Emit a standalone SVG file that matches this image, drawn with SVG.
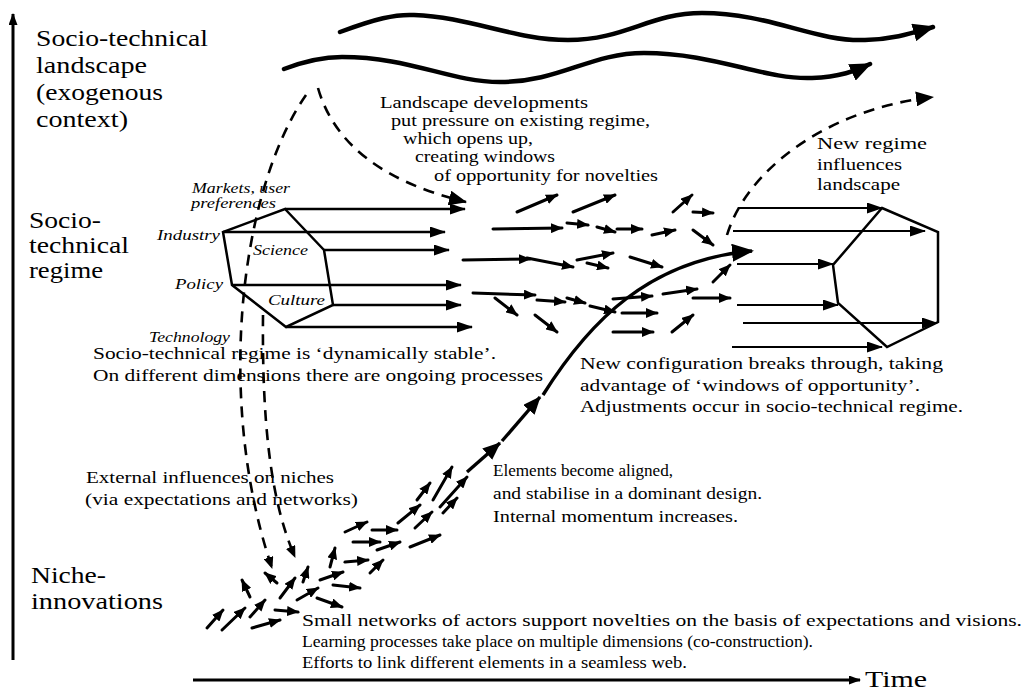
<svg xmlns="http://www.w3.org/2000/svg" width="1027" height="693" viewBox="0 0 1027 693">
<style>
text{font-family:"Liberation Serif","Times New Roman",serif;fill:#000}
.big{font-size:24px}
.t{font-size:16px}
.it{font-size:14px;font-style:italic}
.tm{font-size:24px}
.ln{fill:none;stroke:#000;stroke-width:2.5}
.thin{fill:none;stroke:#000;stroke-width:2.2}
.wave{fill:none;stroke:#000;stroke-width:4.5;stroke-linecap:round}
.dash{fill:none;stroke:#000;stroke-width:2.6;stroke-dasharray:11 8}
.sc{fill:none;stroke:#000;stroke-width:3;stroke-linecap:round}
.main{fill:none;stroke:#000;stroke-width:3.4}
.ax{fill:none;stroke:#000;stroke-width:3}
</style>
<defs>
<marker id="hL" markerUnits="userSpaceOnUse" markerWidth="16" markerHeight="11" refX="15" refY="5.5" orient="auto"><path d="M0,0 L16,5.5 L0,11 z" fill="#000"/></marker>
<marker id="hS" markerUnits="userSpaceOnUse" markerWidth="12" markerHeight="10" refX="11" refY="5" orient="auto"><path d="M0,0 L12,5 L0,10 z" fill="#000"/></marker>
<marker id="hW" markerUnits="userSpaceOnUse" markerWidth="22" markerHeight="18" refX="20" refY="9" orient="auto"><path d="M0,0 L22,9 L0,18 z" fill="#000"/></marker>
<marker id="hM" markerUnits="userSpaceOnUse" markerWidth="18" markerHeight="15" refX="17" refY="7.5" orient="auto"><path d="M0,0 L18,7.5 L0,15 z" fill="#000"/></marker>
<marker id="hA" markerUnits="userSpaceOnUse" markerWidth="12" markerHeight="9" refX="11" refY="4.5" orient="auto"><path d="M0,0 L12,4.5 L0,9 z" fill="#000"/></marker>
</defs>

<g id="axes">
<path class="ax" d="M13,660 L13,14" marker-end="url(#hA)"/>
<path class="ax" d="M193,680 L860,680" marker-end="url(#hA)"/>
<text class="tm" x="865" y="687" textLength="62" lengthAdjust="spacingAndGlyphs">Time</text>
</g>

<g id="landscape-label">
<text class="big" x="36" y="46" textLength="172" lengthAdjust="spacingAndGlyphs">Socio-technical</text>
<text class="big" x="36" y="73" textLength="111" lengthAdjust="spacingAndGlyphs">landscape</text>
<text class="big" x="36" y="100" textLength="127" lengthAdjust="spacingAndGlyphs">(exogenous</text>
<text class="big" x="36" y="127" textLength="92" lengthAdjust="spacingAndGlyphs">context)</text>
</g>

<g id="regime-label">
<text class="big" x="29" y="228" textLength="72" lengthAdjust="spacingAndGlyphs">Socio-</text>
<text class="big" x="29" y="253" textLength="100" lengthAdjust="spacingAndGlyphs">technical</text>
<text class="big" x="29" y="278" textLength="74" lengthAdjust="spacingAndGlyphs">regime</text>
</g>

<g id="niche-label">
<text class="big" x="31" y="583" textLength="75" lengthAdjust="spacingAndGlyphs">Niche-</text>
<text class="big" x="31" y="609" textLength="132" lengthAdjust="spacingAndGlyphs">innovations</text>
</g>

<g id="landscape-waves">
<path class="wave" d="M340,32 C375,19 395,14 414,15 C470,17 515,40 568,40 C625,40 650,13 702,13 C770,13 815,42 865,40 C895,39 912,33 933,27" marker-end="url(#hW)"/>
<path class="wave" d="M284,69 C305,61 325,57 342,57 C410,57 450,82 500,82 C560,82 590,53 644,53 C715,53 765,80 812,78 C840,77 855,71 870,64" marker-end="url(#hW)"/>
</g>

<g id="regime-hexagon">
<polygon class="ln" points="285,209 324,250 333,305 286,327 232,285 223,232"/>
<text class="it" x="192" y="193" textLength="98" lengthAdjust="spacingAndGlyphs">Markets, user</text>
<text class="it" x="191" y="208" textLength="85" lengthAdjust="spacingAndGlyphs">preferences</text>
<text class="it" x="157" y="240" textLength="63" lengthAdjust="spacingAndGlyphs">Industry</text>
<text class="it" x="253" y="255" textLength="55" lengthAdjust="spacingAndGlyphs">Science</text>
<text class="it" x="175" y="289" textLength="48" lengthAdjust="spacingAndGlyphs">Policy</text>
<text class="it" x="268" y="305" textLength="57" lengthAdjust="spacingAndGlyphs">Culture</text>
<text class="it" x="149" y="342" textLength="81" lengthAdjust="spacingAndGlyphs">Technology</text>
</g>

<g id="new-regime-hexagon">
<polygon class="ln" points="882,208 938,232 938,322 887,347 838,303 833,265"/>
</g>

<g id="connectors">
<path class="dash" d="M318,88 Q342,172 466,202" marker-end="url(#hM)"/>
<path class="dash" d="M306,95 C240,190 215,400 272,568" marker-end="url(#hS)"/>
<path class="dash" d="M263,315 C262,420 270,500 295,557" marker-end="url(#hS)"/>
<path class="dash" d="M727,235 C745,175 820,110 933,97" marker-end="url(#hM)"/>
<path class="ln" d="M285,209 L465,209" marker-end="url(#hL)"/>
<path class="ln" d="M223,232 L445,232" marker-end="url(#hL)"/>
<path class="ln" d="M324,250 L449,250" marker-end="url(#hL)"/>
<path class="ln" d="M232,285 L461,285" marker-end="url(#hL)"/>
<path class="ln" d="M333,305 L461,305" marker-end="url(#hL)"/>
<path class="ln" d="M286,327 L472,327" marker-end="url(#hL)"/>
<path class="thin" d="M738,208 L882,208" marker-end="url(#hL)"/>
<path class="thin" d="M733,231 L925,231" marker-end="url(#hL)"/>
<path class="thin" d="M737,264 L833,264" marker-end="url(#hL)"/>
<path class="thin" d="M737,305 L838,305" marker-end="url(#hL)"/>
<path class="thin" d="M743,323 L937,323" marker-end="url(#hL)"/>
<path class="thin" d="M732,347 L882,347" marker-end="url(#hL)"/>
<g marker-end="url(#hS)">
<path class="sc" d="M517,212 L557,195"/>
<path class="sc" d="M573,212 L615,195"/>
<path class="sc" d="M673,212 L692,195"/>
<path class="sc" d="M693,212 L713,213"/>
<path class="sc" d="M493,229 L562,228"/>
<path class="sc" d="M567,223 L588,225"/>
<path class="sc" d="M597,227 L615,232"/>
<path class="sc" d="M617,229 L642,229"/>
<path class="sc" d="M652,235 L675,230"/>
<path class="sc" d="M693,230 L713,245"/>
<path class="sc" d="M463,260 L530,259"/>
<path class="sc" d="M527,258 L573,267"/>
<path class="sc" d="M577,260 L613,253"/>
<path class="sc" d="M587,263 L608,268"/>
<path class="sc" d="M630,257 L662,267"/>
<path class="sc" d="M473,293 L535,295"/>
<path class="sc" d="M495,298 L517,315"/>
<path class="sc" d="M537,300 L565,302"/>
<path class="sc" d="M567,298 L585,303"/>
<path class="sc" d="M590,306 L615,312"/>
<path class="sc" d="M613,299 L652,296"/>
<path class="sc" d="M663,294 L697,289"/>
<path class="sc" d="M693,298 L730,298"/>
<path class="sc" d="M535,315 L557,332"/>
<path class="sc" d="M622,313 L657,313"/>
<path class="sc" d="M613,332 L653,332"/>
<path class="sc" d="M672,332 L693,315"/>
<path class="sc" d="M713,282 L730,265"/>
</g>
<g marker-end="url(#hS)">
<path class="sc" d="M207,628 L223,610"/>
<path class="sc" d="M222,630 L245,608"/>
<path class="sc" d="M250,617 L265,600"/>
<path class="sc" d="M252,628 L280,620"/>
<path class="sc" d="M275,610 L298,612"/>
<path class="sc" d="M250,597 L242,580"/>
<path class="sc" d="M277,583 L265,573"/>
<path class="sc" d="M280,598 L295,578"/>
<path class="sc" d="M297,600 L318,588"/>
<path class="sc" d="M317,598 L342,607"/>
<path class="sc" d="M303,582 L308,567"/>
<path class="sc" d="M320,580 L343,572"/>
<path class="sc" d="M333,585 L360,588"/>
<path class="sc" d="M330,567 L335,548"/>
<path class="sc" d="M345,562 L368,560"/>
<path class="sc" d="M370,573 L383,560"/>
<path class="sc" d="M353,542 L380,542"/>
<path class="sc" d="M377,550 L400,542"/>
<path class="sc" d="M345,532 L367,522"/>
<path class="sc" d="M372,530 L397,530"/>
<path class="sc" d="M398,523 L420,505"/>
<path class="sc" d="M410,547 L440,535"/>
<path class="sc" d="M415,528 L432,512"/>
<path class="sc" d="M443,513 L457,498"/>
<path class="sc" d="M417,500 L430,483"/>
<path class="sc" d="M433,500 L452,467"/>
<path class="sc" d="M440,507 L467,477"/>
</g>
<path class="main" d="M467,472 L500,443" marker-end="url(#hM)"/>
<path class="main" d="M502,441 L540,397" marker-end="url(#hM)"/>
<path class="main" d="M543,395 C590,320 650,260 752,251" marker-end="url(#hW)"/>
</g>

<g id="annotations">
<text class="t" x="380" y="108" textLength="208" lengthAdjust="spacingAndGlyphs">Landscape  developments</text>
<text class="t" x="391" y="126" textLength="259" lengthAdjust="spacingAndGlyphs">put pressure on existing regime,</text>
<text class="t" x="403" y="144" textLength="130" lengthAdjust="spacingAndGlyphs">which opens up,</text>
<text class="t" x="415" y="162" textLength="140" lengthAdjust="spacingAndGlyphs">creating windows</text>
<text class="t" x="434" y="181" textLength="224" lengthAdjust="spacingAndGlyphs">of opportunity for novelties</text>

<text class="t" x="817" y="149" textLength="110" lengthAdjust="spacingAndGlyphs">New  regime</text>
<text class="t" x="817" y="170" textLength="85" lengthAdjust="spacingAndGlyphs">influences</text>
<text class="t" x="817" y="190" textLength="83" lengthAdjust="spacingAndGlyphs">landscape</text>

<text class="t" x="93" y="359" textLength="403" lengthAdjust="spacingAndGlyphs">Socio-technical regime  is ‘dynamically stable’.</text>
<text class="t" x="93" y="381" textLength="450" lengthAdjust="spacingAndGlyphs">On different dimensions there are ongoing processes</text>

<text class="t" x="580" y="369" textLength="363" lengthAdjust="spacingAndGlyphs">New configuration breaks through, taking</text>
<text class="t" x="580" y="391" textLength="340" lengthAdjust="spacingAndGlyphs">advantage of ‘windows of opportunity’.</text>
<text class="t" x="580" y="412" textLength="383" lengthAdjust="spacingAndGlyphs">Adjustments occur in socio-technical regime.</text>

<text class="t" x="86" y="483" textLength="248" lengthAdjust="spacingAndGlyphs">External influences on niches</text>
<text class="t" x="85" y="505" textLength="273" lengthAdjust="spacingAndGlyphs">(via expectations and networks)</text>

<text class="t" x="493" y="476" textLength="180" lengthAdjust="spacingAndGlyphs">Elements become aligned,</text>
<text class="t" x="493" y="499" textLength="269" lengthAdjust="spacingAndGlyphs">and stabilise in a dominant design.</text>
<text class="t" x="493" y="522" textLength="245" lengthAdjust="spacingAndGlyphs">Internal momentum increases.</text>

<text class="t" x="302" y="626" textLength="720" lengthAdjust="spacingAndGlyphs">Small networks of actors support novelties on the basis of expectations and visions.</text>
<text class="t" x="302" y="647" textLength="511" lengthAdjust="spacingAndGlyphs">Learning processes take place on multiple dimensions (co-construction).</text>
<text class="t" x="302" y="668" textLength="385" lengthAdjust="spacingAndGlyphs">Efforts to link different elements in a seamless web.</text>
</g>
</svg>
